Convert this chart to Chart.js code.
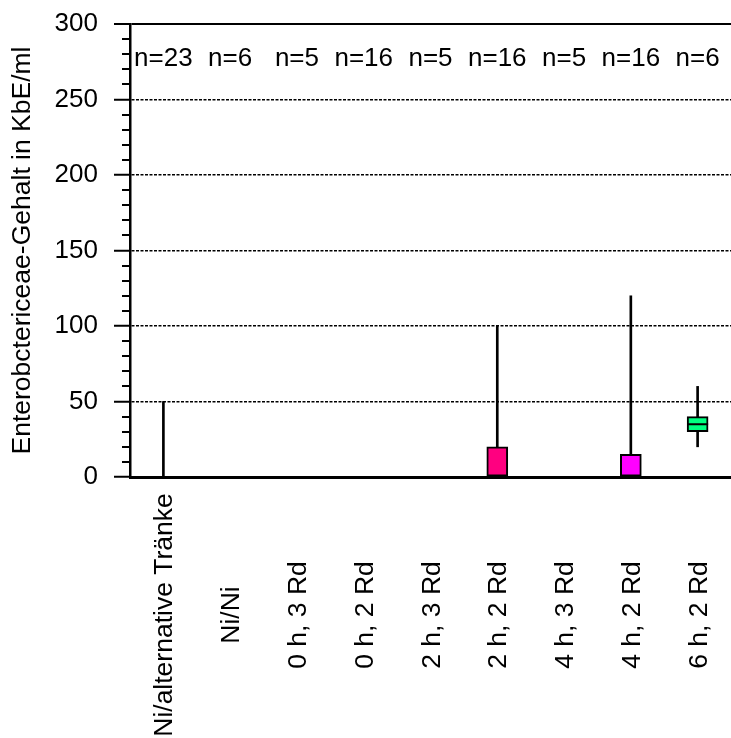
<!DOCTYPE html>
<html>
<head>
<meta charset="utf-8">
<script src="https://cdn.jsdelivr.net/npm/chart.js@4"></script>
<style>
  body { margin: 0; background: #fff; }
  canvas { display: block; }
</style>
</head>
<body>
<canvas id="canvas-entero" width="731" height="738"></canvas>
<script>
// Gruppen und Kennwerte der Boxplots
var gruppen = ["Ni/alternative Tränke", "Ni/Ni", "0 h, 3 Rd", "0 h, 2 Rd", "2 h, 3 Rd", "2 h, 2 Rd", "4 h, 3 Rd", "4 h, 2 Rd", "6 h, 2 Rd"];
var anzahl = [23, 6, 5, 16, 5, 16, 5, 16, 6];
var minimum = [0, 0, 0, 0, 0, 0, 0, 0, 20];
var quartil1 = [0, 0, 0, 0, 0, 0, 0, 0, 30];
var median = [0, 0, 0, 0, 0, 0, 0, 0, 35];
var quartil3 = [0, 0, 0, 0, 0, 20, 0, 15, 40];
var maximum = [50, 0, 0, 0, 0, 100, 0, 120, 60];
var farben = ["#808080", "#808080", "#808080", "#808080", "#808080", "#ff0080", "#808080", "#ff00ff", "#00ff80"];
var yMin = 0;
var yMax = 300;
var yStep = 50;
var yMinorStep = 10;

var schrift = "'Liberation Sans', Arial, sans-serif";
Chart.defaults.font.family = schrift;
Chart.defaults.color = "#000";

// kurze Striche zwischen den Hauptstrichen der y-Achse
var nebenStriche = {
    id: "nebenStriche",
    afterDraw: function (chart) {
        var y = chart.scales.y;
        var ctx = chart.ctx;
        ctx.save();
        ctx.strokeStyle = "#000";
        ctx.lineWidth = 2;
        for (var v = yMin; v <= yMax; v += yMinorStep) {
            if (v % yStep === 0) continue;
            var py = Math.round(y.getPixelForValue(v));
            ctx.beginPath();
            ctx.moveTo(y.right - 8, py);
            ctx.lineTo(y.right, py);
            ctx.stroke();
        }
        ctx.restore();
    }
};

// n-Angaben oben und senkrechte Gruppennamen unten
var beschriftung = {
    id: "beschriftung",
    afterDraw: function (chart) {
        var x = chart.scales.x;
        var ctx = chart.ctx;
        ctx.save();
        ctx.fillStyle = "#000";
        ctx.textAlign = "center";
        ctx.textBaseline = "alphabetic";
        ctx.font = "26px " + schrift;
        anzahl.forEach(function (n, i) {
            ctx.fillText("n=" + n, x.getPixelForValue(i), chart.chartArea.top + 42);
        });
        ctx.font = "26.5px " + schrift;
        gruppen.forEach(function (g, i) {
            ctx.save();
            ctx.translate(x.getPixelForValue(i), 615);
            ctx.rotate(-Math.PI / 2);
            ctx.fillText(g, 0, 9);
            ctx.restore();
        });
        ctx.restore();
    }
};

var ctxEntero = document.getElementById("canvas-entero").getContext("2d");
var chartEntero = new Chart(ctxEntero, {
    type: "bar",
    data: {
        labels: gruppen,
        datasets: [
            {
                type: "line",
                label: "Median",
                data: median,
                showLine: false,
                pointStyle: "line",
                pointRadius: 10.5,
                pointBorderWidth: 2,
                pointBorderColor: "#000",
                pointBackgroundColor: "#000",
                order: 0,
            },
            {
                label: "Quartile",
                data: gruppen.map(function (_, i) { return [quartil1[i], quartil3[i]]; }),
                backgroundColor: farben,
                borderColor: "#000",
                borderWidth: 2,
                borderSkipped: false,
                barThickness: 21,
                grouped: false,
                order: 1,
            },
            {
                label: "Spannweite",
                data: gruppen.map(function (_, i) { return [minimum[i], maximum[i]]; }),
                backgroundColor: "#000",
                borderWidth: 0,
                barThickness: 2,
                grouped: false,
                order: 2,
            },
        ],
    },
    options: {
        responsive: false,
        animation: false,
        layout: {
            autoPadding: false,
            padding: { top: 24, left: 0, right: 0, bottom: 0 },
        },
        plugins: {
            legend: { display: false },
            tooltip: { enabled: false },
        },
        scales: {
            x: {
                grid: { display: false },
                border: { display: true, color: "#000", width: 3 },
                ticks: { display: false },
                afterFit: function (scale) { scale.height = 261; },
            },
            y: {
                min: yMin,
                max: yMax,
                ticks: {
                    stepSize: yStep,
                    padding: 16,
                    font: { size: 26 },
                    color: "#000",
                },
                grid: {
                    color: function (c) { return c.tick && c.tick.value === yMin ? "rgba(0,0,0,0)" : "#000"; },
                    lineWidth: function (c) { return c.tick && c.tick.value === yMax ? 2 : 1.5; },
                    tickColor: "#000",
                    tickWidth: 2,
                    tickLength: 16,
                    tickBorderDash: [],
                },
                border: {
                    display: true,
                    color: "#000",
                    width: 2.5,
                    dash: function (c) { return c.tick && c.tick.value !== yMax ? [3, 1.5] : []; },
                },
                title: {
                    display: true,
                    text: "Enterobctericeae-Gehalt in KbE/ml",
                    font: { size: 26.5, lineHeight: 1.2 },
                    padding: { top: 7, bottom: 0 },
                    color: "#000",
                },
                afterFit: function (scale) {
                    scale.width = 130;
                    scale.paddingTop = 0;
                    scale.paddingBottom = 0;
                },
            },
        },
    },
    plugins: [nebenStriche, beschriftung],
});
</script>
</body>
</html>
